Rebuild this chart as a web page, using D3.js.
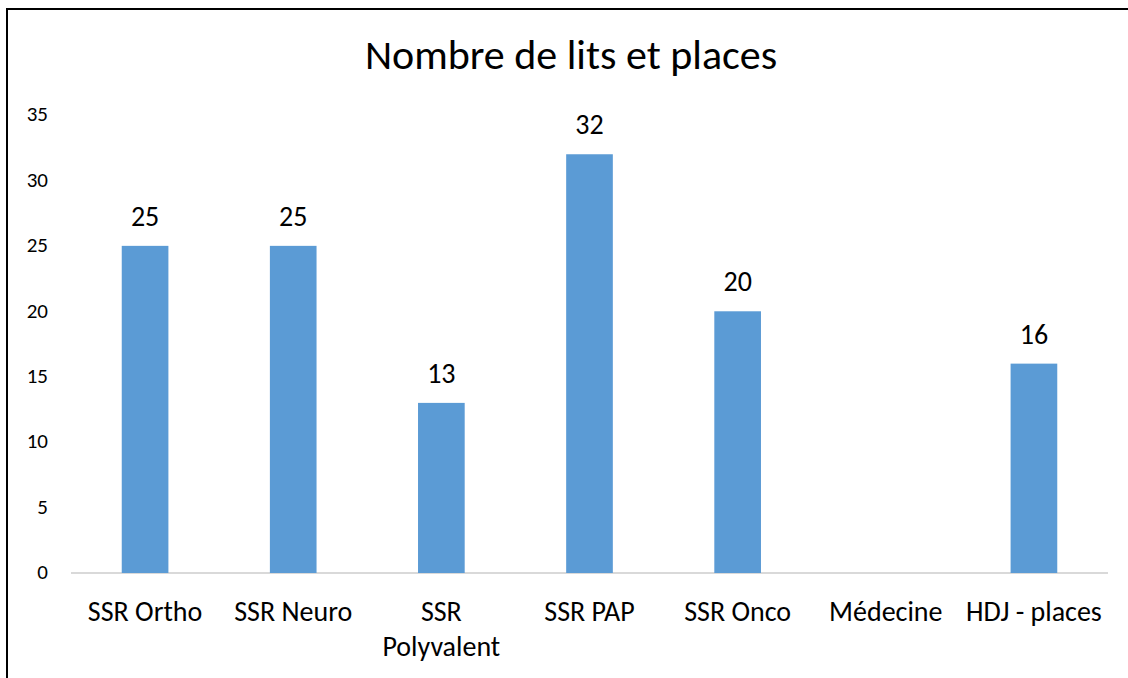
<!DOCTYPE html>
<html><head><meta charset="utf-8">
<script src="https://cdn.jsdelivr.net/npm/d3@7"></script>
<style>
html,body{margin:0;padding:0;background:#fff;}
text{font-family:Carlito,Calibri,Lato,sans-serif;fill:#000;}
</style></head>
<body>
<svg id="chart" width="1128" height="678"></svg>
<script>
const categories = ["SSR Ortho", "SSR Neuro", "SSR Polyvalent", "SSR PAP", "SSR Onco", "Médecine", "HDJ - places"];
const values = [25, 25, 13, 32, 20, null, 16];
const yTicks = [0, 5, 10, 15, 20, 25, 30, 35];
const title = "Nombre de lits et places";

const svg = d3.select("#chart");
svg.append("rect").attr("x",7).attr("y",9).attr("width",1200).attr("height",800)
  .attr("fill","none").attr("stroke","#000").attr("stroke-width",2);

const x = d3.scaleBand().domain(categories).range([71,1108]).padding(0);
const y = d3.scaleLinear().domain([0,35]).range([573,115]);
const barW = x.step()*0.315;

svg.append("text").attr("x",571).attr("y",69).attr("text-anchor","middle")
  .style("font-size","42px").text(title);

// y labels
svg.selectAll(".yt").data(yTicks).enter().append("text")
  .attr("x",48).attr("y",d=>y(d)).attr("dy","0.3em").attr("text-anchor","end")
  .style("font-size","21px").text(d=>d);

// axis line
svg.append("line").attr("x1",71).attr("x2",1108).attr("y1",y(0)).attr("y2",y(0))
  .attr("stroke","#d9d9d9").attr("stroke-width",2);

const data = categories.map((c,i)=>({c, v: values[i]})).filter(d=>d.v!=null);
svg.selectAll(".bar").data(data).enter().append("rect")
  .attr("x",d=>x(d.c)+x.bandwidth()/2-barW/2).attr("width",barW)
  .attr("y",d=>y(d.v)).attr("height",d=>y(0)-y(d.v)).attr("fill","#5B9BD5");

svg.selectAll(".lbl").data(data).enter().append("text")
  .attr("x",d=>x(d.c)+x.bandwidth()/2).attr("y",d=>y(d.v)-20)
  .attr("text-anchor","middle").style("font-size","28px").text(d=>d.v);

// category labels
categories.forEach(c=>{
  const cx = x(c)+x.bandwidth()/2;
  const t = svg.append("text").attr("x",cx).attr("y",621).attr("text-anchor","middle").style("font-size","28px");
  if (c === "SSR Polyvalent") {
    t.append("tspan").attr("x",cx).text("SSR");
    t.append("tspan").attr("x",cx).attr("dy",35).text("Polyvalent");
  } else t.text(c);
});
</script>
</body></html>
